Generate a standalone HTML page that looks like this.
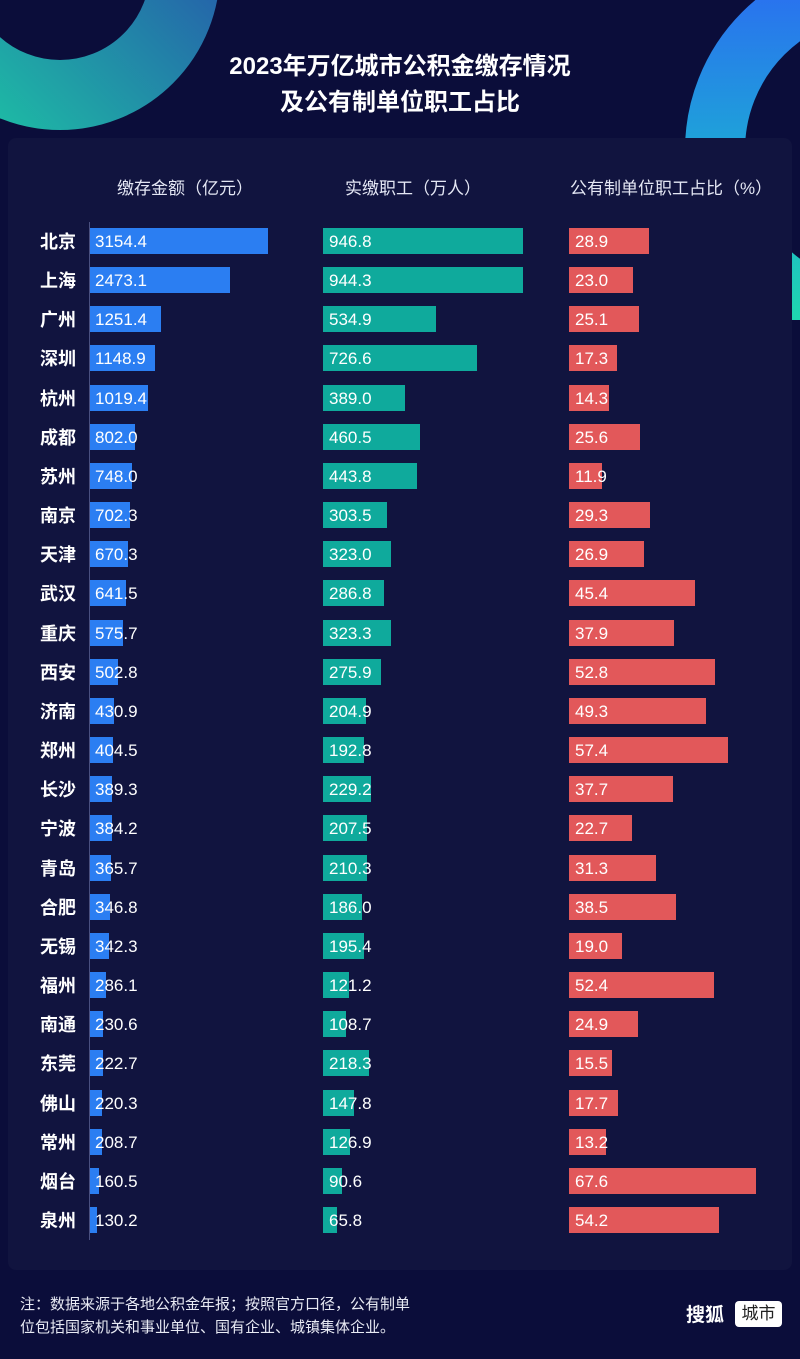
<!DOCTYPE html>
<html><head><meta charset="utf-8"><style>
*{margin:0;padding:0;box-sizing:border-box}
body{width:800px;height:1359px;background:#0b0d3a;position:relative;overflow:hidden;font-family:"Liberation Sans","Noto Sans CJK SC",sans-serif;color:#fff}
.a{position:absolute}
.panel{left:8px;top:138px;width:784px;height:1132px;background:#11143f;border-radius:8px}
.t{left:0;width:800px;text-align:center;font-size:24px;font-weight:bold}
.h{top:174px;font-size:17px;color:#e4e7f4}
.r{position:absolute;left:0;width:800px;height:26px}
.c{position:absolute;left:40px;top:1px;font-size:18px;font-weight:bold;line-height:26px}
.b{position:absolute;top:0;height:26px}
.b1{left:90px;background:#2b7ef2}.b2{left:323px;background:#0faa9c}.b3{left:569px;background:#e2585a}
.v{position:absolute;top:0;font-size:17px;line-height:27px;color:#fff}
.v1{left:95px}.v2{left:329px}.v3{left:575px}
</style></head><body>
<svg class="a" style="left:0;top:0" width="800" height="320">
<defs>
<linearGradient id="g1" x1="0" y1="1" x2="1" y2="0"><stop offset="0" stop-color="#1fd6b0"/><stop offset="1" stop-color="#2a4fb8"/></linearGradient>
<linearGradient id="g2" x1="0" y1="1" x2="0" y2="0"><stop offset="0" stop-color="#1fd6b0"/><stop offset="0.5" stop-color="#1ea4d8"/><stop offset="1" stop-color="#2a6ff0"/></linearGradient>
</defs>
<circle cx="60" cy="-30" r="125" fill="none" stroke="url(#g1)" stroke-width="70" opacity="0.9"/>
<circle cx="880" cy="150" r="165" fill="none" stroke="url(#g2)" stroke-width="60"/>
</svg>
<div class="a panel"></div>
<div class="a t" style="top:46px">2023年万亿城市公积金缴存情况</div>
<div class="a t" style="top:82px">及公有制单位职工占比</div>
<div class="a h" style="left:117px">缴存金额（亿元）</div>
<div class="a h" style="left:345px">实缴职工（万人）</div>
<div class="a h" style="left:570px">公有制单位职工占比（%）</div>
<div class="a" style="left:89px;top:222px;width:1px;height:1018px;background:#4a5080"></div>

<div class="r" style="top:228px"><span class="c">北京</span><div class="b b1" style="width:178px"></div><span class="v v1">3154.4</span><div class="b b2" style="width:200px"></div><span class="v v2">946.8</span><div class="b b3" style="width:80px"></div><span class="v v3">28.9</span></div>
<div class="r" style="top:267px"><span class="c">上海</span><div class="b b1" style="width:139.6px"></div><span class="v v1">2473.1</span><div class="b b2" style="width:199.5px"></div><span class="v v2">944.3</span><div class="b b3" style="width:63.7px"></div><span class="v v3">23.0</span></div>
<div class="r" style="top:306px"><span class="c">广州</span><div class="b b1" style="width:70.6px"></div><span class="v v1">1251.4</span><div class="b b2" style="width:113px"></div><span class="v v2">534.9</span><div class="b b3" style="width:69.5px"></div><span class="v v3">25.1</span></div>
<div class="r" style="top:345px"><span class="c">深圳</span><div class="b b1" style="width:64.8px"></div><span class="v v1">1148.9</span><div class="b b2" style="width:153.5px"></div><span class="v v2">726.6</span><div class="b b3" style="width:47.9px"></div><span class="v v3">17.3</span></div>
<div class="r" style="top:385px"><span class="c">杭州</span><div class="b b1" style="width:57.5px"></div><span class="v v1">1019.4</span><div class="b b2" style="width:82.2px"></div><span class="v v2">389.0</span><div class="b b3" style="width:39.6px"></div><span class="v v3">14.3</span></div>
<div class="r" style="top:424px"><span class="c">成都</span><div class="b b1" style="width:45.3px"></div><span class="v v1">802.0</span><div class="b b2" style="width:97.3px"></div><span class="v v2">460.5</span><div class="b b3" style="width:70.9px"></div><span class="v v3">25.6</span></div>
<div class="r" style="top:463px"><span class="c">苏州</span><div class="b b1" style="width:42.2px"></div><span class="v v1">748.0</span><div class="b b2" style="width:93.7px"></div><span class="v v2">443.8</span><div class="b b3" style="width:32.9px"></div><span class="v v3">11.9</span></div>
<div class="r" style="top:502px"><span class="c">南京</span><div class="b b1" style="width:39.6px"></div><span class="v v1">702.3</span><div class="b b2" style="width:64.1px"></div><span class="v v2">303.5</span><div class="b b3" style="width:81.1px"></div><span class="v v3">29.3</span></div>
<div class="r" style="top:541px"><span class="c">天津</span><div class="b b1" style="width:37.8px"></div><span class="v v1">670.3</span><div class="b b2" style="width:68.2px"></div><span class="v v2">323.0</span><div class="b b3" style="width:74.5px"></div><span class="v v3">26.9</span></div>
<div class="r" style="top:580px"><span class="c">武汉</span><div class="b b1" style="width:36.2px"></div><span class="v v1">641.5</span><div class="b b2" style="width:60.6px"></div><span class="v v2">286.8</span><div class="b b3" style="width:125.7px"></div><span class="v v3">45.4</span></div>
<div class="r" style="top:620px"><span class="c">重庆</span><div class="b b1" style="width:32.5px"></div><span class="v v1">575.7</span><div class="b b2" style="width:68.3px"></div><span class="v v2">323.3</span><div class="b b3" style="width:104.9px"></div><span class="v v3">37.9</span></div>
<div class="r" style="top:659px"><span class="c">西安</span><div class="b b1" style="width:28.4px"></div><span class="v v1">502.8</span><div class="b b2" style="width:58.3px"></div><span class="v v2">275.9</span><div class="b b3" style="width:146.2px"></div><span class="v v3">52.8</span></div>
<div class="r" style="top:698px"><span class="c">济南</span><div class="b b1" style="width:24.3px"></div><span class="v v1">430.9</span><div class="b b2" style="width:43.3px"></div><span class="v v2">204.9</span><div class="b b3" style="width:136.5px"></div><span class="v v3">49.3</span></div>
<div class="r" style="top:737px"><span class="c">郑州</span><div class="b b1" style="width:22.8px"></div><span class="v v1">404.5</span><div class="b b2" style="width:40.7px"></div><span class="v v2">192.8</span><div class="b b3" style="width:158.9px"></div><span class="v v3">57.4</span></div>
<div class="r" style="top:776px"><span class="c">长沙</span><div class="b b1" style="width:22px"></div><span class="v v1">389.3</span><div class="b b2" style="width:48.4px"></div><span class="v v2">229.2</span><div class="b b3" style="width:104.4px"></div><span class="v v3">37.7</span></div>
<div class="r" style="top:815px"><span class="c">宁波</span><div class="b b1" style="width:21.7px"></div><span class="v v1">384.2</span><div class="b b2" style="width:43.8px"></div><span class="v v2">207.5</span><div class="b b3" style="width:62.8px"></div><span class="v v3">22.7</span></div>
<div class="r" style="top:855px"><span class="c">青岛</span><div class="b b1" style="width:20.6px"></div><span class="v v1">365.7</span><div class="b b2" style="width:44.4px"></div><span class="v v2">210.3</span><div class="b b3" style="width:86.6px"></div><span class="v v3">31.3</span></div>
<div class="r" style="top:894px"><span class="c">合肥</span><div class="b b1" style="width:19.6px"></div><span class="v v1">346.8</span><div class="b b2" style="width:39.3px"></div><span class="v v2">186.0</span><div class="b b3" style="width:106.6px"></div><span class="v v3">38.5</span></div>
<div class="r" style="top:933px"><span class="c">无锡</span><div class="b b1" style="width:19.3px"></div><span class="v v1">342.3</span><div class="b b2" style="width:41.3px"></div><span class="v v2">195.4</span><div class="b b3" style="width:52.6px"></div><span class="v v3">19.0</span></div>
<div class="r" style="top:972px"><span class="c">福州</span><div class="b b1" style="width:16.1px"></div><span class="v v1">286.1</span><div class="b b2" style="width:25.6px"></div><span class="v v2">121.2</span><div class="b b3" style="width:145px"></div><span class="v v3">52.4</span></div>
<div class="r" style="top:1011px"><span class="c">南通</span><div class="b b1" style="width:13px"></div><span class="v v1">230.6</span><div class="b b2" style="width:23px"></div><span class="v v2">108.7</span><div class="b b3" style="width:68.9px"></div><span class="v v3">24.9</span></div>
<div class="r" style="top:1050px"><span class="c">东莞</span><div class="b b1" style="width:12.6px"></div><span class="v v1">222.7</span><div class="b b2" style="width:46.1px"></div><span class="v v2">218.3</span><div class="b b3" style="width:42.9px"></div><span class="v v3">15.5</span></div>
<div class="r" style="top:1090px"><span class="c">佛山</span><div class="b b1" style="width:12.4px"></div><span class="v v1">220.3</span><div class="b b2" style="width:31.2px"></div><span class="v v2">147.8</span><div class="b b3" style="width:49px"></div><span class="v v3">17.7</span></div>
<div class="r" style="top:1129px"><span class="c">常州</span><div class="b b1" style="width:11.8px"></div><span class="v v1">208.7</span><div class="b b2" style="width:26.8px"></div><span class="v v2">126.9</span><div class="b b3" style="width:36.5px"></div><span class="v v3">13.2</span></div>
<div class="r" style="top:1168px"><span class="c">烟台</span><div class="b b1" style="width:9.1px"></div><span class="v v1">160.5</span><div class="b b2" style="width:19.1px"></div><span class="v v2">90.6</span><div class="b b3" style="width:187.1px"></div><span class="v v3">67.6</span></div>
<div class="r" style="top:1207px"><span class="c">泉州</span><div class="b b1" style="width:7.3px"></div><span class="v v1">130.2</span><div class="b b2" style="width:13.9px"></div><span class="v v2">65.8</span><div class="b b3" style="width:150px"></div><span class="v v3">54.2</span></div>

<div class="a" style="left:20px;top:1293px;font-size:15px;line-height:23px;color:#e8eaf4">注：数据来源于各地公积金年报；按照官方口径，公有制单<br>位包括国家机关和事业单位、国有企业、城镇集体企业。</div>
<div class="a" style="left:686px;top:1300px;font-size:19px;font-weight:bold">搜狐</div>
<div class="a" style="left:735px;top:1301px;width:47px;height:26px;background:#fff;border-radius:4px;color:#222;font-size:17px;line-height:26px;text-align:center">城市</div>
</body></html>
